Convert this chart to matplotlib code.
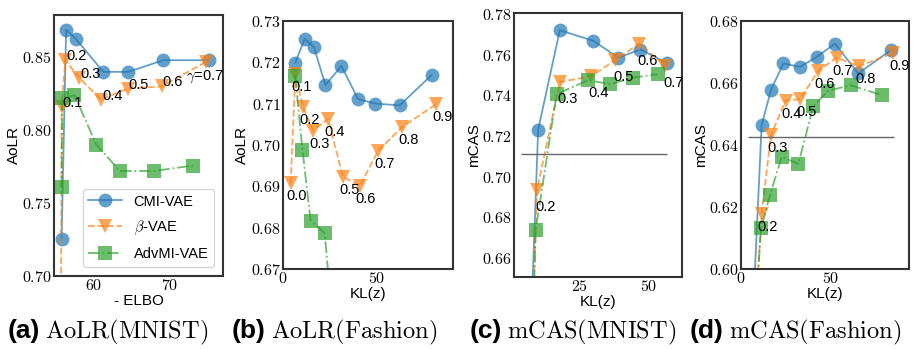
import matplotlib
matplotlib.use('Agg')
import matplotlib.pyplot as plt
from matplotlib.ticker import FixedLocator, FuncFormatter

plt.rcParams['mathtext.fontset'] = 'cm'
plt.rcParams['font.family'] = ['Liberation Sans', 'DejaVu Sans']

W, H = 913, 349

# ---------------- data ----------------
# (a) AoLR (MNIST), x = -ELBO
a_cmi_x = [55.7, 56.3, 57.6, 61.2, 64.5, 69.1, 75.1]
a_cmi_y = [0.7255, 0.869, 0.8625, 0.840, 0.840, 0.848, 0.848]
a_beta_x = [55.6, 55.7, 56.2, 58.0, 60.9, 64.4, 68.9, 74.8]
a_beta_y = [0.64, 0.816, 0.848, 0.836, 0.821, 0.8285, 0.830, 0.847]
a_beta_lab = ['', '0.1', '0.2', '0.3', '0.4', '0.5', '0.6', r'$\gamma$=0.7']
a_adv_x = [55.7, 55.8, 57.4, 60.3, 63.4, 67.9, 73.0]
a_adv_y = [0.7607, 0.822, 0.824, 0.790, 0.772, 0.772, 0.7757]

# (b) AoLR (Fashion), x = KL(z)
b_cmi_x = [6.6, 11.6, 16.6, 22.7, 31.3, 40.2, 49.5, 62.5, 79.5]
b_cmi_y = [0.7199, 0.7257, 0.7236, 0.7145, 0.7191, 0.7111, 0.7100, 0.7096, 0.7169]
b_beta_x = [4.1, 6.6, 10.7, 16.1, 24.1, 32.1, 41.1, 50.9, 63.9, 82.1]
b_beta_y = [0.6907, 0.7171, 0.7092, 0.7035, 0.7063, 0.6923, 0.6901, 0.6986, 0.7044, 0.7099]
b_beta_lab = ['0.0', '0.1', '0.2', '0.3', '0.4', '0.5', '0.6', '0.7', '0.8', '0.9']
b_adv_x = [6.6, 10.4, 14.8, 22.3, 27.0]
b_adv_y = [0.7166, 0.6988, 0.6817, 0.6787, 0.655]

# (c) mCAS (MNIST)
c_cmi_x = [7.0, 9.8, 17.7, 29.9, 39.0, 47.0, 56.7]
c_cmi_y = [0.62, 0.7231, 0.7721, 0.7669, 0.7586, 0.7626, 0.7560]
c_beta_x = [7.5, 9.4, 17.7, 29.0, 37.8, 46.6, 56.1]
c_beta_y = [0.62, 0.6936, 0.7466, 0.7494, 0.7573, 0.7655, 0.7545]
c_beta_lab = ['', '0.2', '0.3', '0.4', '0.5', '0.6', '0.7']
c_adv_x = [7.8, 8.9, 16.5, 28.0, 36.0, 44.5, 53.3]
c_adv_y = [0.62, 0.6738, 0.7406, 0.7475, 0.7455, 0.7488, 0.7504]
c_base_y, c_base_x0, c_base_x1 = 0.7113, 3.7, 56.7

# (d) mCAS (Fashion)
d_cmi_x = [7.0, 11.5, 16.7, 23.6, 32.9, 42.2, 52.4, 65.4, 83.6]
d_cmi_y = [0.59, 0.6464, 0.6577, 0.6663, 0.6652, 0.6684, 0.6727, 0.6631, 0.6706]
d_beta_x = [8.5, 11.5, 16.7, 24.9, 32.9, 43.1, 53.3, 65.8, 84.9]
d_beta_y = [0.59, 0.6178, 0.6432, 0.6543, 0.6548, 0.6639, 0.6682, 0.6654, 0.6697]
d_beta_lab = ['', '0.2', '0.3', '0.4', '0.5', '0.6', '0.7', '0.8', '0.9']
d_adv_x = [8.5, 11.2, 16.2, 22.7, 32.0, 40.3, 48.7, 61.2, 78.4]
d_adv_y = [0.59, 0.6132, 0.6239, 0.6362, 0.6339, 0.6525, 0.6575, 0.6593, 0.6561]
d_base_y, d_base_x0, d_base_x1 = 0.6425, 4.1, 85.5

names = ['CMI-VAE', r'$\beta$-VAE', 'AdvMI-VAE']
captions = [('(a)', 'AoLR(MNIST)'), ('(b)', 'AoLR(Fashion)'),
            ('(c)', 'mCAS(MNIST)'), ('(d)', 'mCAS(Fashion)')]

# ---------------- figure ----------------
fig = plt.figure(figsize=(W / 100, H / 100), dpi=100)


def add_ax(l, t, r, b):
    return fig.add_axes([l / W, 1 - b / H, (r - l) / W, (b - t) / H])


axes = [add_ax(54, 15, 223, 276), add_ax(283, 21, 453, 269),
        add_ax(514, 13, 682, 277), add_ax(741, 21, 909, 269)]

C_BLUE, C_ORANGE, C_GREEN = '#1f77b4', '#ff7f0e', '#2ca02c'
A = 0.7
ms = 10


def draw(ax, cx, cy, bx, by, gx, gy):
    ax.plot(cx, cy, '-', marker='o', color=C_BLUE, alpha=A, ms=ms, mew=0, lw=1.3, label=names[0])
    ax.plot(bx, by, '--', marker='v', color=C_ORANGE, alpha=A, ms=ms, mew=0, lw=1.3, label=names[1])
    ax.plot(gx, gy, '-.', marker='s', color=C_GREEN, alpha=A, ms=ms, mew=0, lw=1.3, label=names[2])


def labels(ax, xs, ys, labs, dx, dy, va):
    for x, y, s in zip(xs, ys, labs):
        if s:
            ax.annotate(s, (x, y), xytext=(dx, dy), textcoords='offset pixels',
                        fontsize=10.5, ha='left', va=va, annotation_clip=False)


ax = axes[0]
draw(ax, a_cmi_x, a_cmi_y, a_beta_x, a_beta_y, a_adv_x, a_adv_y)
labels(ax, a_beta_x[:-1], a_beta_y[:-1], a_beta_lab[:-1], 1, 0, 'baseline')
ax.annotate(a_beta_lab[-1], (a_beta_x[-1], a_beta_y[-1]), xytext=(-20, -18),
            textcoords='offset pixels', fontsize=10.5, ha='left', va='baseline')
ax.set_xlim(54.7, 77.0)
ax.set_ylim(0.70, 0.879)
ax.xaxis.set_major_locator(FixedLocator([60, 70]))
ax.yaxis.set_major_locator(FixedLocator([0.70, 0.75, 0.80, 0.85]))
ax.set_xlabel('- ELBO')
ax.set_ylabel('AoLR')
ax.legend(loc='lower right', fontsize=10.5, handlelength=2.3, labelspacing=0.7,
          borderaxespad=0.6)

ax = axes[1]
draw(ax, b_cmi_x, b_cmi_y, b_beta_x, b_beta_y, b_adv_x, b_adv_y)
labels(ax, b_beta_x, b_beta_y, b_beta_lab, -4, -6, 'top')
ax.set_xlim(0, 91)
ax.set_ylim(0.67, 0.73)
ax.xaxis.set_major_locator(FixedLocator([0, 50]))
ax.yaxis.set_major_locator(FixedLocator([0.67, 0.68, 0.69, 0.70, 0.71, 0.72, 0.73]))
ax.set_xlabel('KL(z)')
ax.set_ylabel('AoLR')

ax = axes[2]
draw(ax, c_cmi_x, c_cmi_y, c_beta_x, c_beta_y, c_adv_x, c_adv_y)
ax.hlines(c_base_y, c_base_x0, c_base_x1, color='0.4', lw=1.0)
labels(ax, c_beta_x, c_beta_y, c_beta_lab, -2, -10, 'top')
ax.set_xlim(1, 62.2)
ax.set_ylim(0.6505, 0.7806)
ax.xaxis.set_major_locator(FixedLocator([25, 50]))
ax.yaxis.set_major_locator(FixedLocator([0.66, 0.68, 0.70, 0.72, 0.74, 0.76, 0.78]))
ax.set_xlabel('KL(z)')
ax.set_ylabel('mCAS')

ax = axes[3]
draw(ax, d_cmi_x, d_cmi_y, d_beta_x, d_beta_y, d_adv_x, d_adv_y)
ax.hlines(d_base_y, d_base_x0, d_base_x1, color='0.4', lw=1.0)
labels(ax, d_beta_x, d_beta_y, d_beta_lab, -4, -6, 'top')
ax.set_xlim(0, 93.7)
ax.set_ylim(0.60, 0.68)
ax.xaxis.set_major_locator(FixedLocator([0, 50]))
ax.yaxis.set_major_locator(FixedLocator([0.60, 0.62, 0.64, 0.66, 0.68]))
ax.set_xlabel('KL(z)')
ax.set_ylabel('mCAS')

for ax in axes:
    ax.xaxis.set_major_formatter(FuncFormatter(lambda v, p: '$%d$' % round(v)))
    ax.yaxis.set_major_formatter(FuncFormatter(lambda v, p: '$%.2f$' % v))
    ax.tick_params(length=0, pad=1.5, labelsize=11.5)
    ax.xaxis.label.set_size(11)
    ax.yaxis.label.set_size(11)
    ax.xaxis.labelpad = 1
    ax.yaxis.labelpad = 1
    for s in ax.spines.values():
        s.set_color('#333333')
        s.set_linewidth(1.5)

renderer = fig.canvas.get_renderer()
cap_x = [8, 232, 470, 690]
for (lab, txt), x0 in zip(captions, cap_x):
    t = fig.text(x0 / W, 1 - 338 / H, lab, fontsize=19, fontweight='bold',
                 family='Liberation Sans', va='baseline')
    bb = t.get_window_extent(renderer)
    fig.text((bb.x1 + 5) / W, 1 - 338 / H, r'$\mathrm{%s}$' % txt, fontsize=17.6, va='baseline')

fig.savefig('out.png', dpi=100)
